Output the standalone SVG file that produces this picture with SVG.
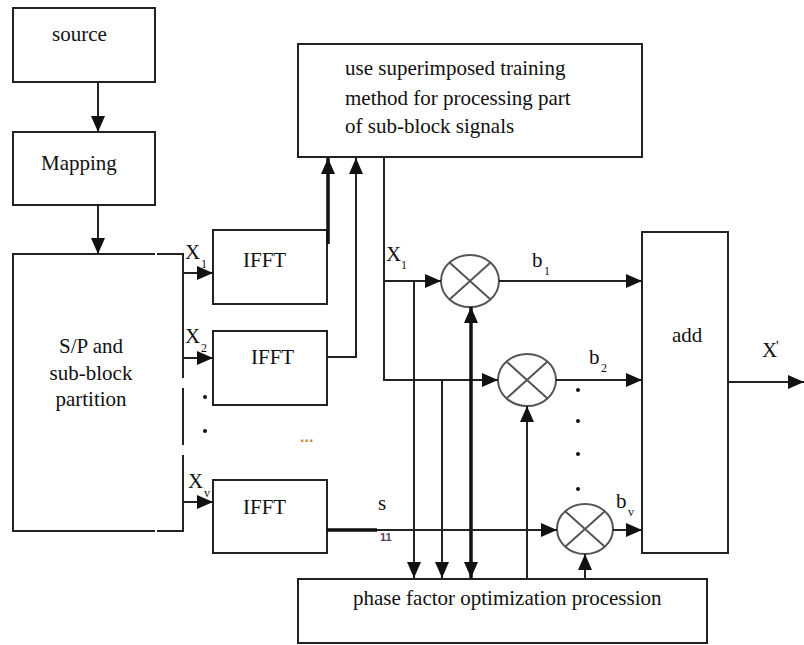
<svg xmlns="http://www.w3.org/2000/svg" width="804" height="645" viewBox="0 0 804 645">
<defs>
<style>
.box{fill:none;stroke:#222;stroke-width:2}
.ln{fill:none;stroke:#222;stroke-width:2}
.thick{fill:none;stroke:#111;stroke-width:3.5}
.circ{fill:none;stroke:#555;stroke-width:2}
.t{font-family:"Liberation Serif","Times New Roman",serif;font-size:21px;fill:#111}
.sub{font-family:"Liberation Serif","Times New Roman",serif;font-size:12px;fill:#111}
.dot{fill:#111}
</style>
<marker id="ah" markerUnits="userSpaceOnUse" markerWidth="16" markerHeight="14" refX="16" refY="7" orient="auto-start-reverse"><path d="M0,0 L16,7 L0,14 z" fill="#111"/></marker>
</defs>
<rect width="804" height="645" fill="#fff"/>

<g id="source"><rect class="box" x="13" y="8" width="142" height="74"/><text class="t" x="52" y="41">source</text></g>
<g id="mapping"><rect class="box" x="13" y="132" width="142" height="73"/><text class="t" x="41" y="170">Mapping</text></g>
<g id="sp">
<path class="box" d="M155,254 H13 V531 H155 M157,254 H183 V378 M183,388 V445 M183,455 V531 H157"/>
<text class="t" text-anchor="middle" x="91" y="353">S/P and</text>
<text class="t" text-anchor="middle" x="91" y="380">sub-block</text>
<text class="t" text-anchor="middle" x="91" y="406">partition</text>
</g>
<g id="ifft1"><rect class="box" x="213" y="230" width="114" height="74"/><text class="t" x="243" y="267">IFFT</text></g>
<g id="ifft2"><rect class="box" x="213" y="331" width="114" height="74"/><text class="t" x="251" y="364">IFFT</text></g>
<g id="ifft3"><rect class="box" x="213" y="480" width="114" height="73"/><text class="t" x="243" y="514">IFFT</text></g>
<g id="training"><rect class="box" x="298" y="44" width="344" height="113"/>
<text class="t" x="345" y="75">use superimposed training</text>
<text class="t" x="345" y="105">method for processing part</text>
<text class="t" x="345" y="133">of sub-block signals</text></g>
<g id="mult1"><ellipse class="circ" cx="470" cy="281" rx="29" ry="26"/><path class="circ" d="M449.5,262.6 L490.5,299.4 M490.5,262.6 L449.5,299.4"/></g>
<g id="mult2"><ellipse class="circ" cx="527" cy="380" rx="29" ry="26"/><path class="circ" d="M506.5,361.6 L547.5,398.4 M547.5,361.6 L506.5,398.4"/></g>
<g id="multv"><ellipse class="circ" cx="585" cy="529" rx="28" ry="25"/><path class="circ" d="M565.2,511.3 L604.8,546.7 M604.8,511.3 L565.2,546.7"/></g>
<g id="add"><rect class="box" x="642" y="232" width="86" height="321"/><text class="t" x="672" y="342">add</text></g>
<g id="phase"><rect class="box" x="298" y="579" width="409" height="64"/><text class="t" x="353" y="605">phase factor optimization procession</text></g>

<g id="connectors">
<line class="ln" x1="98" y1="82" x2="98" y2="132" marker-end="url(#ah)"/>
<line class="ln" x1="98" y1="205" x2="98" y2="254" marker-end="url(#ah)"/>
<line class="ln" x1="183" y1="273" x2="213" y2="273" marker-end="url(#ah)"/>
<line class="ln" x1="183" y1="358" x2="213" y2="358" marker-end="url(#ah)"/>
<line class="ln" x1="183" y1="502" x2="213" y2="502" marker-end="url(#ah)"/>
<line class="thick" x1="328" y1="244" x2="328" y2="158" marker-end="url(#ah)"/>
<polyline class="ln" points="327,357 356,357 356,158" marker-end="url(#ah)"/>
<polyline class="ln" points="384,157 384,380 498,380" marker-end="url(#ah)"/>
<line class="ln" x1="384" y1="281" x2="441" y2="281" marker-end="url(#ah)"/>
<line class="ln" x1="414" y1="281" x2="414" y2="578" marker-end="url(#ah)"/>
<line class="ln" x1="442" y1="380" x2="442" y2="578" marker-end="url(#ah)"/>
<line class="thick" x1="471" y1="307" x2="471" y2="578" marker-start="url(#ah)" marker-end="url(#ah)"/>
<line class="ln" x1="527" y1="579" x2="527" y2="406" marker-end="url(#ah)"/>
<line class="ln" x1="585" y1="579" x2="585" y2="554" marker-end="url(#ah)"/>
<line class="thick" x1="327" y1="530" x2="377" y2="530"/>
<line class="ln" x1="377" y1="530" x2="557" y2="530" marker-end="url(#ah)"/>
<line class="ln" x1="499" y1="281" x2="642" y2="281" marker-end="url(#ah)"/>
<line class="ln" x1="556" y1="380" x2="642" y2="380" marker-end="url(#ah)"/>
<line class="ln" x1="613" y1="530" x2="642" y2="530" marker-end="url(#ah)"/>
<line class="ln" x1="728" y1="382" x2="804" y2="382" marker-end="url(#ah)"/>
</g>

<g id="labels">
<text class="t" x="185" y="259">X</text><text class="sub" x="201" y="268">1</text>
<text class="t" x="185" y="343">X</text><text class="sub" x="201" y="352">2</text>
<text class="t" x="188" y="488">X</text><text class="sub" x="204" y="497">v</text>
<text class="t" x="386" y="261">X</text><text class="sub" x="401" y="269">1</text>
<text class="t" x="532" y="267">b</text><text class="sub" x="544" y="275">1</text>
<text class="t" x="589" y="364">b</text><text class="sub" x="601" y="372">2</text>
<text class="t" x="616" y="508">b</text><text class="sub" x="628" y="516">v</text>
<text class="t" x="762" y="357">X</text><text x="776" y="351" style="font-family:'Liberation Serif',serif;font-size:15px;fill:#111">'</text>
<text class="t" x="378" y="510">s</text>
<text x="380" y="541" style="font-family:'Liberation Sans',sans-serif;font-size:11px;font-weight:bold;fill:#5a4060">11</text>
<text x="300" y="442" style="font-family:'Liberation Sans',sans-serif;font-size:16px;font-weight:bold;fill:#c98a3a">...</text>
<circle class="dot" cx="205" cy="397" r="2"/>
<circle class="dot" cx="205" cy="431" r="2"/>
<circle class="dot" cx="578" cy="390" r="2"/>
<circle class="dot" cx="578" cy="421" r="2"/>
<circle class="dot" cx="578" cy="454" r="2"/>
<circle class="dot" cx="578" cy="489" r="2"/>
</g>
</svg>
